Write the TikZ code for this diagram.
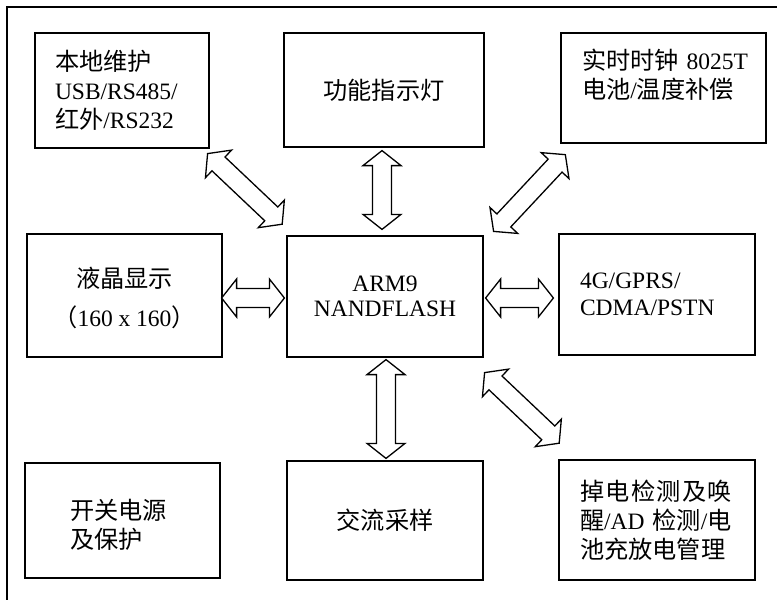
\documentclass[tikz,border=0pt]{standalone}
\usepackage{fontspec}
\setmainfont{Liberation Serif}
\newfontfamily\cjk[Scale=1.03]{Noto Sans CJK SC}
\usepackage{tikz}
\usetikzlibrary{calc}

\newcommand\zh[1]{{\cjk #1}}
% hollow double block arrow from #1 to #2
\newcommand\dblarrow[2]{%
  \draw[blockarrow] let \p1=($(#2)-(#1)$), \n1={atan2(\y1,\x1)},
      \n2={veclen(\x1,\y1)} in [shift={(#1)},rotate=\n1]
    (0,0) -- (15,19) -- (15,9.5) -- (\n2-15,9.5) -- (\n2-15,19) -- (\n2,0)
    -- (\n2-15,-19) -- (\n2-15,-9.5) -- (15,-9.5) -- (15,-19) -- cycle;}

\begin{document}
\begin{tikzpicture}[x=1pt,y=-1pt,
    blockarrow/.style={draw=black,line width=1.3pt,fill=white}]
\useasboundingbox (0,0) rectangle (777,600);
\draw[line width=1.2pt] (7,7) rectangle (800,620);
\begin{scope}[every node/.style={rectangle,draw,line width=1.2pt,inner sep=0pt,
      font=\fontsize{23.5}{29}\selectfont}]
    \node[minimum height=115pt,text width=134pt,inner xsep=20pt,align=left] (maint) at (122,90.5)
        {\zh{本地维护}\\USB/RS485/\\\zh{红外}/RS232};
    \node[minimum width=200pt,minimum height=114pt,align=center] (led) at (384,90) {\zh{功能指示灯}};
    \node[minimum height=110pt,text width=163pt,inner xsep=21pt,align=left] (rtc) at (663.5,88)
        {\mbox{\zh{实时时钟}~8025T}\\\mbox{\zh{电池}/\zh{温度补偿}}\\\mbox{}};
    \node[minimum width=195pt,minimum height=123pt,align=center] (lcd) at (124.5,295.5)
        {\mbox{}\\[-3pt]\zh{液晶显示}\\[10pt]\zh{（}160 x 160\zh{）}};
    \node[minimum width=196pt,minimum height=121pt,align=center] (cpu) at (385,296.5)
        {ARM9\\[-4pt]NANDFLASH};
    \node[minimum height=121pt,text width=154pt,inner xsep=21pt,align=left] (net) at (657,294.5)
        {4G/GPRS/\\[-2pt]CDMA/PSTN};
    \node[minimum height=115pt,text width=105pt,inner xsep=45pt,align=left] (psu) at (122.5,520.5)
        {\mbox{}\\\zh{开关电源}\\\zh{及保护}};
    \node[minimum width=196pt,minimum height=119pt,align=center] (ac) at (385,520.5) {\zh{交流采样}};
    \node[minimum height=120pt,text width=154pt,inner xsep=21pt,align=left] (pm) at (657,520)
        {\makebox[152pt][s]{\zh{掉}\hfil\zh{电}\hfil\zh{检}\hfil\zh{测}\hfil\zh{及}\hfil\zh{唤}}\\
         \mbox{\zh{醒}/AD~\zh{检测}/\zh{电}}\\\mbox{\zh{池充放电管理}}};
\end{scope}
% connections to the CPU board
\dblarrow{[xshift=-2pt,yshift=-3pt]led.south}{[xshift=-3pt,yshift=6pt]cpu.north}
\dblarrow{[xshift=1pt,yshift=-2pt]cpu.south}{[xshift=1pt,yshift=2pt]ac.north}
\dblarrow{[xshift=-1pt,yshift=-2.5pt]lcd.east}{[xshift=-2pt,yshift=-1.5pt]cpu.west}
\dblarrow{[xshift=2pt,yshift=-1.5pt]cpu.east}{[xshift=-5pt,yshift=-3.5pt]net.west}
\dblarrow{[xshift=-2pt,yshift=-5pt]maint.south east}{[xshift=-4pt,yshift=11pt]cpu.north west}
\dblarrow{[xshift=10pt,yshift=4pt]cpu.north east}{[xshift=5pt,yshift=-11pt]rtc.south west}
\dblarrow{[xshift=1pt,yshift=-15pt]cpu.south east}{[xshift=1pt,yshift=16pt]pm.north west}
\end{tikzpicture}
\end{document}
